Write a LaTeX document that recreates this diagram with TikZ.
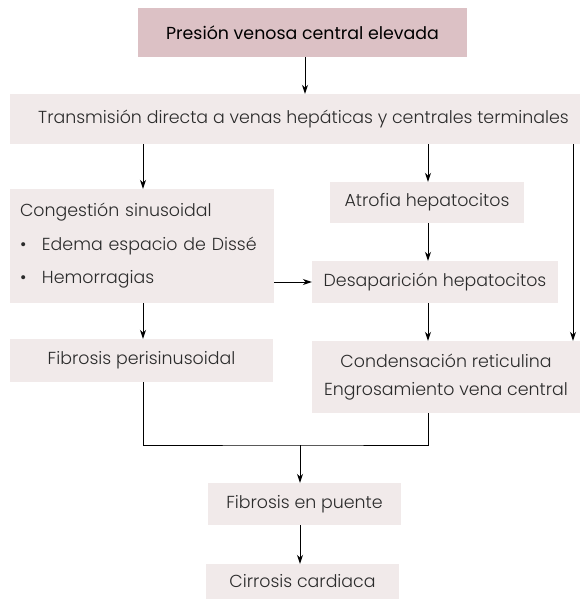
\documentclass[tikz,border=0pt]{standalone}
\usepackage{fontspec}
\setmainfont{Poppins Light}
\newfontfamily\titlefont{Poppins}
\usetikzlibrary{positioning, arrows.meta}
\definecolor{titlefill}{HTML}{DCC1C5}
\definecolor{boxfill}{HTML}{F1EAEA}
\definecolor{txtgray}{HTML}{2B2B2B}

\begin{document}
\begin{tikzpicture}[
  x=1pt, y=-1pt,
  >={Stealth[length=9pt,width=6pt]},
  every node/.style={font=\fontsize{17.4}{20.9}\selectfont, text=txtgray},
  box/.style={fill=boxfill, inner sep=0pt, align=center},
  titlebox/.style={fill=titlefill, inner sep=0pt, align=center, text=black,
                   font=\fontsize{17.4}{20.9}\selectfont\titlefont},
  link/.style={->, line width=0.9pt, black},
  joinline/.style={line width=0.9pt, black}
]
\useasboundingbox (0,0) rectangle (580,599);

% ---- TOP ----
\node[titlebox, minimum width=329pt, minimum height=49pt] (pvc)
  at (302.5,32.5) {Presión venosa central elevada};
\node[box, minimum width=570pt, minimum height=50pt] (trans)
  at (295,119) {\hspace*{17pt}Transmisión directa a venas hepáticas y centrales terminales};

% ---- LEFT column ----
\node[box, align=left, text width=244pt, inner xsep=10pt, minimum height=114pt] (cong)
  at (142,246) {%
  Congestión sinusoidal\\[12.6pt]
  \makebox[22pt][l]{\textbullet}Edema espacio de Dissé\\[12.6pt]
  \makebox[22pt][l]{\textbullet}Hemorragias};
\node[box, minimum width=263pt, minimum height=43pt] (fperi)
  at (141.5,360.5) {Fibrosis perisinusoidal};

% ---- RIGHT column ----
\node[box, minimum width=194pt, minimum height=41pt] (atro)
  at (427,202.5) {Atrofia hepatocitos};
\node[box, minimum width=246pt, minimum height=42pt] (desap)
  at (435,282) {Desaparición hepatocitos};
\node[box, minimum width=268pt, minimum height=72pt] (cond)
  at (446,377) {Condensación reticulina\\[7pt]Engrosamiento vena central};

% ---- BOTTOM ----
\node[box, minimum width=193pt, minimum height=42pt] (fpuente)
  at (304.5,504) {Fibrosis en puente};
\node[box, minimum width=193pt, minimum height=35pt] (cirr)
  at (302.5,581.5) {Cirrosis cardiaca};

% ---- connectors ----
\draw[link] (pvc.south -| 305,0) -- (trans.north -| 305,0);
\draw[link] (trans.south -| 143,0) -- (cong.north -| 143,0);
\draw[link] (trans.south -| 428,0) -- (atro.north -| 428,0);
\draw[link] (trans.south -| 573,0) -- (cond.north -| 573,0);
\draw[link] (atro.south -| 428,0) -- (desap.north -| 428,0);
\draw[link] (cong.east |- desap) -- (desap.west);
\draw[link] (cong.south -| 143,0) -- (fperi.north -| 143,0);
\draw[link] (desap.south -| 428,0) -- (cond.north -| 428,0);

\coordinate (join) at (300,445);
\draw[joinline] (fperi.south -| 143,0) |- (join) -| (cond.south -| 428,0);
\draw[link] (join) -- (join |- fpuente.north);
\draw[link] (fpuente.south -| join) -- (cirr.north -| join);

\end{tikzpicture}
\end{document}
